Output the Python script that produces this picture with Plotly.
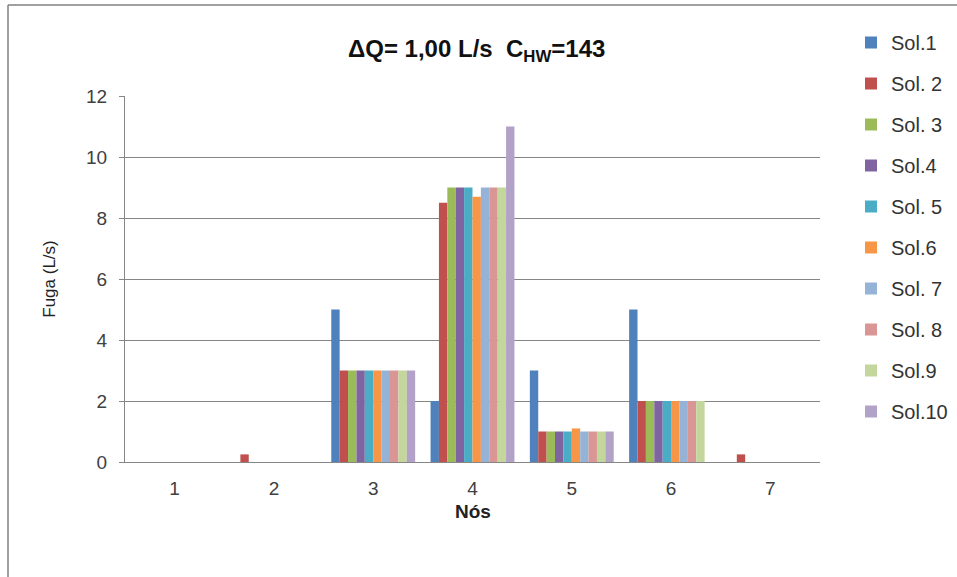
import plotly.graph_objects as go

nodes = ["1", "2", "3", "4", "5", "6", "7"]
series_names = ["Sol.1", "Sol. 2", "Sol. 3", "Sol.4", "Sol. 5", "Sol.6", "Sol. 7", "Sol. 8", "Sol.9", "Sol.10"]
sol1 = [0, 0, 5, 2, 3, 5, 0]
sol2 = [0, 0.25, 3, 8.5, 1, 2, 0.25]
sol3 = [0, 0, 3, 9, 1, 2, 0]
sol4 = [0, 0, 3, 9, 1, 2, 0]
sol5 = [0, 0, 3, 9, 1, 2, 0]
sol6 = [0, 0, 3, 8.7, 1.1, 2, 0]
sol7 = [0, 0, 3, 9, 1, 2, 0]
sol8 = [0, 0, 3, 9, 1, 2, 0]
sol9 = [0, 0, 3, 9, 1, 2, 0]
sol10 = [0, 0, 3, 11, 1, 0, 0]
series_values = [sol1, sol2, sol3, sol4, sol5, sol6, sol7, sol8, sol9, sol10]
colors = ["#4F81BD", "#C0504D", "#9BBB59", "#8064A2", "#4BACC6",
          "#F79646", "#95B3D7", "#D99694", "#C3D69B", "#B3A2C7"]
y_ticks = [0, 2, 4, 6, 8, 10, 12]

FONT = "Arial, Liberation Sans, sans-serif"

L, R, T, B = 125, 137, 96, 115
W, H = 957, 577
pw, ph = W - L - R, H - T - B

def px_x(p):
    return (p - L) / pw

def px_y(p):
    return (H - B - p) / ph

fig = go.Figure()
for i, (name, vals) in enumerate(zip(series_names, series_values)):
    fig.add_trace(go.Bar(x=nodes, y=vals, name=name, marker_color=colors[i],
                         marker_line_width=0, legendgroup=f"g{i}",
                         legend="legend" if i < 5 else "legend2"))

SPACING = 41
FIRST = 42
leg_common = dict(xanchor="left", yanchor="top",
                  font=dict(family=FONT, size=20, color="#333333"),
                  tracegroupgap=12, itemwidth=30, bgcolor="rgba(0,0,0,0)")

fig.update_layout(
    width=W, height=H,
    margin=dict(l=L, r=R, t=T, b=B, pad=0, autoexpand=False),
    paper_bgcolor="white", plot_bgcolor="white",
    barmode="group", bargap=0.155, bargroupgap=0,
    font=dict(family=FONT, color="#404040", size=19),
    showlegend=True,
    legend=dict(x=px_x(851), y=px_y(FIRST - 19), **leg_common),
    legend2=dict(x=px_x(851), y=px_y(FIRST - 19 + 5 * SPACING), **leg_common),
    xaxis=dict(type="category", showgrid=False, showline=True, linecolor="#868686",
               linewidth=1, ticks="", tickfont=dict(size=19, color="#404040"),
               ticklabelstandoff=9),
    yaxis=dict(range=[0, 12], tickvals=y_ticks, showgrid=True, gridcolor="#868686",
               gridwidth=1, showline=True, linecolor="#868686", linewidth=1,
               ticks="outside", ticklen=5, tickcolor="#868686", zeroline=False,
               tickfont=dict(size=19, color="#404040"), ticklabelstandoff=8,
               title=dict(text="Fuga (L/s)", font=dict(size=17, color="#222222"), standoff=26)),
    annotations=[
        dict(text="<b>ΔQ= 1,00 L/s  C<sub>HW</sub>=143</b>",
             xref="paper", yref="paper", x=px_x(476), y=px_y(50),
             xanchor="center", yanchor="middle", showarrow=False,
             font=dict(family=FONT, size=24, color="#111111")),
        dict(text="<b>Nós</b>", xref="paper", yref="paper", x=px_x(473), y=px_y(511),
             xanchor="center", yanchor="middle", showarrow=False,
             font=dict(family=FONT, size=19, color="#222222")),
    ],
    shapes=[
        dict(type="line", xref="paper", yref="paper", x0=px_x(8), x1=px_x(8),
             y0=px_y(600), y1=px_y(5), line=dict(color="#808080", width=1.5)),
        dict(type="line", xref="paper", yref="paper", x0=px_x(8), x1=px_x(980),
             y0=px_y(5), y1=px_y(5), line=dict(color="#808080", width=1.5)),
    ],
)

fig.write_html("out.html")
